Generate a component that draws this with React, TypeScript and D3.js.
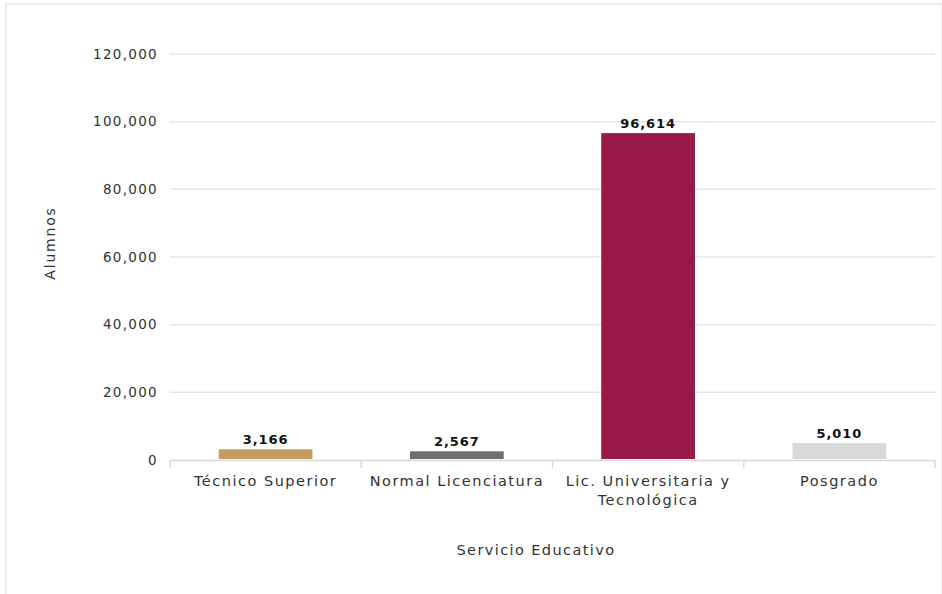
import React from "react";
import * as d3 from "d3";

const categories = ["Técnico Superior", "Normal Licenciatura", "Lic. Universitaria y Tecnológica", "Posgrado"];
const categoryLines = [["Técnico Superior"], ["Normal Licenciatura"], ["Lic. Universitaria y", "Tecnológica"], ["Posgrado"]];
const values = [3166, 2567, 96614, 5010];
const colors = ["#c59b5f", "#6f6f6f", "#98184a", "#d9d9d9"];
const yTicks = [0, 20000, 40000, 60000, 80000, 100000, 120000];

const W = 942, H = 594;
const left = 170, right = 935, top = 54, bottom = 460;
const font = "'DejaVu Sans', 'Open Sans', sans-serif";

export default function App() {
  const x = d3.scaleBand<string>().domain(categories).range([left, right]).paddingInner(0.51).paddingOuter(0.255);
  const xOuter = d3.scaleBand<string>().domain(categories).range([left, right]);
  const y = d3.scaleLinear().domain([0, 120000]).range([bottom, top]);
  const fmt = d3.format(",");
  return (
    <svg width={W} height={H} style={{ position: "absolute", left: 0, top: 0, background: "#fff" }} fontFamily={font}>
      <rect x={6} y={4} width={W - 6} height={H - 2} fill="none" stroke="#e6e6e6" strokeWidth={1.5} />
      {yTicks.map((t) => (
        <g key={t}>
          {t > 0 && <line x1={left} x2={right} y1={y(t)} y2={y(t)} stroke="#e6e6e6" strokeWidth={1.5} />}
          <text x={158} y={y(t)} dy="0.35em" textAnchor="end" fontSize={13.5} letterSpacing={1.3} fill="#333">{fmt(t)}</text>
        </g>
      ))}
      <line x1={left} x2={right} y1={bottom + 0.5} y2={bottom + 0.5} stroke="#d8d8d8" strokeWidth={1.5} />
      {categories.map((c) => (
        <line key={"t" + c} x1={xOuter(c)!} x2={xOuter(c)!} y1={bottom} y2={bottom + 8} stroke="#d8d8d8" strokeWidth={1.5} />
      ))}
      <line x1={right} x2={right} y1={bottom} y2={bottom + 8} stroke="#d8d8d8" strokeWidth={1.5} />
      {categories.map((c, i) => (
        <g key={c}>
          <rect x={x(c)!} y={y(values[i])} width={x.bandwidth()} height={bottom - 1 - y(values[i])} fill={colors[i]} />
          <text x={x(c)! + x.bandwidth() / 2} y={y(values[i]) - 5} textAnchor="middle" fontSize={13} fontWeight="bold" letterSpacing={0.9} fill="#111">{fmt(values[i])}</text>
          <text x={xOuter(c)! + xOuter.bandwidth() / 2} y={486} textAnchor="middle" fontSize={14.5} letterSpacing={1.5} fill="#333">
            {categoryLines[i].map((l, j) => (
              <tspan key={j} x={xOuter(c)! + xOuter.bandwidth() / 2} dy={j === 0 ? 0 : 19}>{l}</tspan>
            ))}
          </text>
        </g>
      ))}
      <text transform={`translate(55,243) rotate(-90)`} textAnchor="middle" fontSize={14} letterSpacing={1.8} fill="#333">Alumnos</text>
      <text x={536} y={555} textAnchor="middle" fontSize={14.5} letterSpacing={1.4} fill="#333">Servicio Educativo</text>
    </svg>
  );
}
